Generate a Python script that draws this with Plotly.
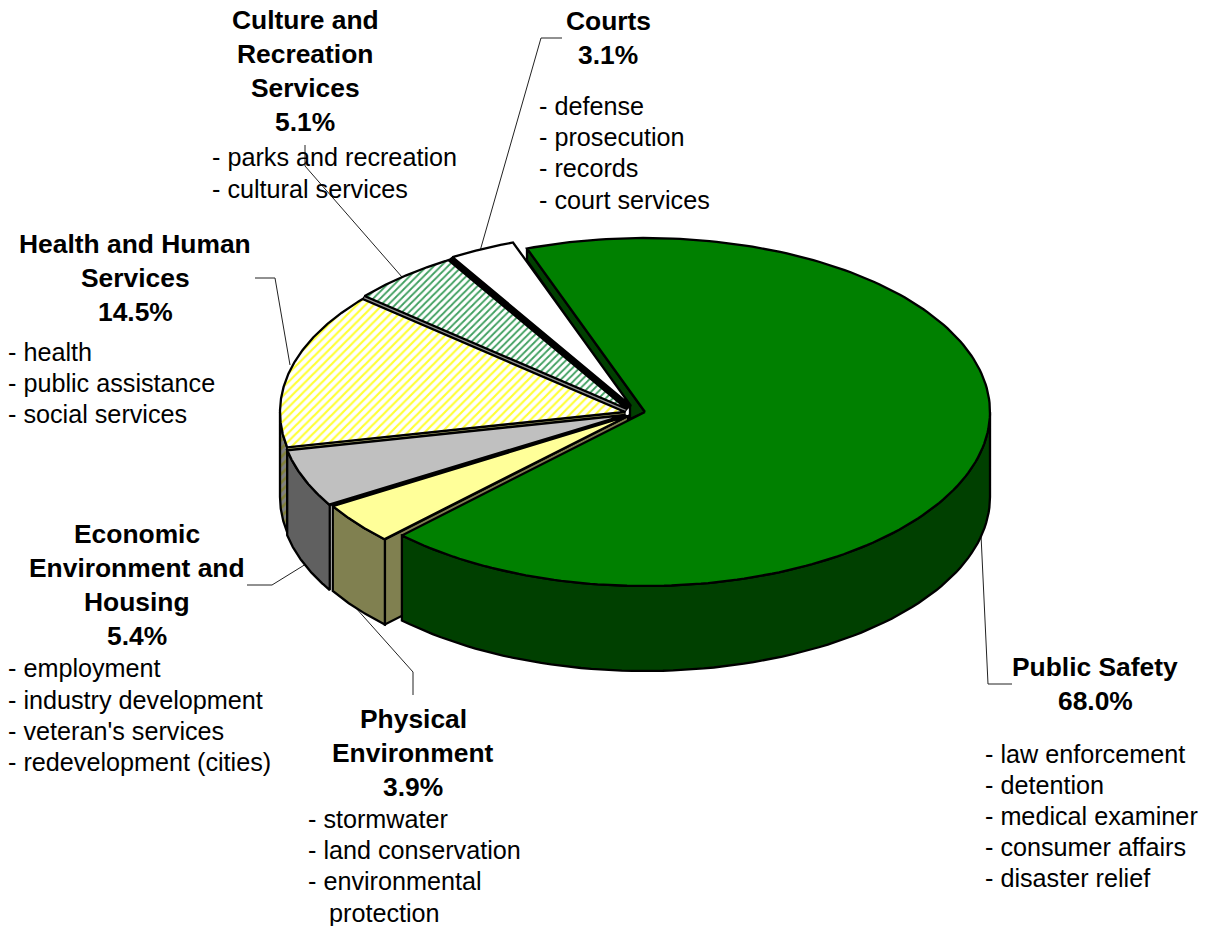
import numpy as np
import plotly.graph_objects as go

# ---- chart data -------------------------------------------------------
CATEGORIES = ["Public Safety", "Physical Environment",
              "Economic Environment and Housing", "Health and Human Services",
              "Culture and Recreation Services", "Courts"]
SHARES = [68.0, 3.9, 5.4, 14.5, 5.1, 3.1]
TITLE_LINES = [["Public Safety"], ["Physical", "Environment"],
               ["Economic", "Environment and", "Housing"],
               ["Health and Human", "Services"],
               ["Culture and", "Recreation", "Services"], ["Courts"]]
DETAILS = [["- law enforcement", "- detention", "- medical examiner", "- consumer affairs", "- disaster relief"],
           ["- stormwater", "- land conservation", "- environmental", "protection"],
           ["- employment", "- industry development", "- veteran's services", "- redevelopment (cities)"],
           ["- health", "- public assistance", "- social services"],
           ["- parks and recreation", "- cultural services"],
           ["- defense", "- prosecution", "- records", "- court services"]]

# ---- layout of the drawing ---------------------------------------------
W, H = 1205, 926
RX, RY, DEPTH = 345, 174, 85
START_ANGLE = -20
APEX = [(645, 412), (628, 416), (625, 415), (625, 412), (627, 409), (631, 406)]
TOP_FILL = ["#008000", "#FFFF99", "#C0C0C0", None, None, "#FFFFFF"]
WALL_FILL = ["#004000", "#808050", "#606060", None, None, None]
TITLE_POS = [(1095, 667), (413, 719), (137, 534), (135, 244), (305, 20), (608, 21)]
DETAIL_POS = [(983, [754, 785, 816, 847, 878]), (306, [819, 850, 881, 913]),
              (6, [668, 700, 731, 762]), (6, [352, 383, 414]),
              (210, [157, 189]), (537, [106, 137, 168, 200])]
LEADERS = [[(981, 535), (988, 684), (1012, 684)],
           [(355, 607), (413, 672), (413, 695)],
           [(306, 564), (272, 585), (247, 585)],
           [(290, 365), (275, 278), (255, 278)],
           [(402, 277), (305, 166), (305, 145)],
           [(480, 251), (541, 38), (562, 38)]]
BOLD, REG = 26.4, 25.2
FONT = "Liberation Sans, Arial, sans-serif"
LW = 2.3

edges = START_ANGLE + np.concatenate([[0], np.cumsum(SHARES)]) * 3.6


def rim(i, a0, a1, n=80):
    t = np.radians(np.linspace(a0, a1, n))
    return APEX[i][0] + RX * np.sin(t), APEX[i][1] - RY * np.cos(t)


fig = go.Figure()


def poly(xs, ys, fill=None, pattern=None, width=LW):
    kw = dict(fillpattern=pattern) if pattern else {}
    fig.add_trace(go.Scatter(x=list(xs), y=list(ys), mode="lines", fill="toself",
                             fillcolor=fill, line=dict(color="black", width=width),
                             hoverinfo="skip", showlegend=False, **kw))


for pts in LEADERS:
    fig.add_trace(go.Scatter(x=[p[0] for p in pts], y=[p[1] for p in pts], mode="lines",
                             line=dict(color="#222222", width=1), hoverinfo="skip", showlegend=False))

# exposed cut face at the start of the large slice
sx, sy = rim(0, edges[0], edges[0], 1)
ax, ay = APEX[0]
poly([sx[0], ax, ax - 15, ax - 15, sx[0], sx[0]],
     [sy[0], ay, ay + 7, ay - 5, sy[0] + 12, sy[0]], WALL_FILL[0])

# cut face of the physical environment slice, seen past the large slice
px_, py_ = rim(1, edges[1], edges[1], 1)
ax, ay = APEX[1]
poly([px_[0], ax, ax, px_[0], px_[0]],
     [py_[0], ay, ay + DEPTH, py_[0] + DEPTH, py_[0]], WALL_FILL[1])


def wall(i, a0, a1, fill=None, pattern=None):
    x, y = rim(i, a0, a1)
    poly(np.r_[x, x[::-1], x[0]], np.r_[y, (y + DEPTH)[::-1], y[0]], fill, pattern)


wall(3, edges[3], 270, "#7F7F7F", dict(shape="/", fgcolor="#80803A", bgcolor="#7F7F7F", size=6, solidity=0.45, fgopacity=1))
wall(2, edges[2], edges[3], WALL_FILL[2])
wall(1, edges[1], edges[2], WALL_FILL[1])
wall(0, 90, edges[1], WALL_FILL[0])


# thin strips left open between neighbouring slices
def gap(i, j, fill):
    x0, y0 = rim(i, edges[i + 1], edges[i + 1], 1)
    x1, y1 = rim(j, edges[j], edges[j], 1)
    poly([x0[0], APEX[i][0], APEX[j][0], x1[0], x0[0]],
         [y0[0], APEX[i][1], APEX[j][1], y1[0], y0[0]], fill, width=1.2)


gap(2, 3, "#B0B070")
gap(3, 4, "#909090")
gap(1, 2, "#000000")
gap(4, 5, "#000000")

patterns = {3: dict(shape="/", fgcolor="#FFFF33", bgcolor="#FFFFFF", size=6, solidity=0.36, fgopacity=1),
            4: dict(shape="/", fgcolor="#3F9F5F", bgcolor="#FFFFFF", size=5, solidity=0.36, fgopacity=1)}
for i in [5, 4, 3, 2, 1, 0]:
    x, y = rim(i, edges[i], edges[i + 1], 200)
    ax, ay = APEX[i]
    poly(np.r_[ax, x, ax], np.r_[ay, y, ay], TOP_FILL[i] or "#FFFFFF", patterns.get(i))

annotations = []
for i, share in enumerate(SHARES):
    cx, ty = TITLE_POS[i]
    for k, line in enumerate(TITLE_LINES[i] + [f"{share:.1f}%"]):
        annotations.append(dict(x=cx, y=ty + 34 * k, text=f"<b>{line}</b>", showarrow=False, xanchor="center",
                                yanchor="middle", font=dict(family=FONT, size=BOLD, color="black")))
    lx, ys = DETAIL_POS[i]
    for line, yy in zip(DETAILS[i], ys):
        indent = 21 if not line.startswith("-") else 0
        annotations.append(dict(x=lx + indent, y=yy, text=line, showarrow=False, xanchor="left",
                                yanchor="middle", font=dict(family=FONT, size=REG, color="black")))

fig.update_layout(width=W, height=H, margin=dict(l=0, r=0, t=0, b=0), paper_bgcolor="white",
                  plot_bgcolor="white", showlegend=False, annotations=annotations,
                  xaxis=dict(range=[0, W], visible=False, fixedrange=True),
                  yaxis=dict(range=[H, 0], visible=False, fixedrange=True))
fig.write_html("out.html", config=dict(displayModeBar=False),
               post_script="document.body.style.margin='0';")
